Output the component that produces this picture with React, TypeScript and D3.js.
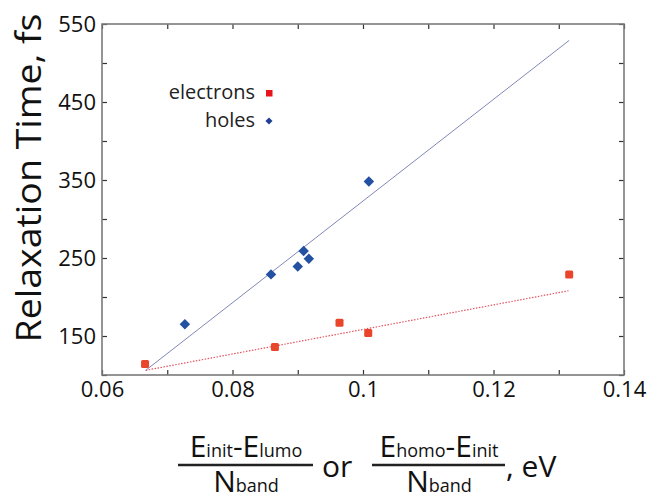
import React, { useEffect, useRef } from "react";
import * as d3 from "d3";

// values
const electronX = [0.0666, 0.0865, 0.0964, 0.1008, 0.1316];
const electronY = [114, 136, 167, 154, 229];

const holeX = [0.0727, 0.0859, 0.09, 0.0909, 0.0917, 0.1009];
const holeY = [165, 229, 239, 259, 249, 348];

// fitted lines (end points)
const electronFitX = [0.0667, 0.1315];
const electronFitY = [106, 208];
const holeFitX = [0.0667, 0.1316];
const holeFitY = [106, 529];

const xTicks = [0.06, 0.07, 0.08, 0.09, 0.1, 0.11, 0.12, 0.13, 0.14];
const xTickLabels = [0.06, 0.08, 0.1, 0.12, 0.14];
const yTicks = [100, 150, 200, 250, 300, 350, 400, 450, 500, 550];
const yTickLabels = [150, 250, 350, 450, 550];

const legendLabels = ["electrons", "holes"];

const FONT = "'Open Sans', 'DejaVu Sans', sans-serif";

const App = () => {
  const svgRef = useRef<SVGSVGElement>(null);

  useEffect(() => {
    const width = 653;
    const height = 500;
    const margin = { top: 24, right: 29, bottom: 125, left: 102 };

    const svg = d3.select(svgRef.current);
    svg.selectAll("*").remove();

    const x = d3.scaleLinear().domain([0.06, 0.14]).range([margin.left, width - margin.right]);
    const y = d3.scaleLinear().domain([100, 550]).range([height - margin.bottom, margin.top]);

    const fmtX = (d) => (xTickLabels.some((v) => Math.abs(v - d) < 1e-9) ? String(+d.toFixed(2)) : "");
    const fmtY = (d) => (yTickLabels.includes(d) ? String(d) : "");

    const styleAxis = (g) => {
      g.select(".domain").remove();
      g.selectAll(".tick line").attr("stroke", "#333").attr("stroke-width", 1.2);
      g.selectAll(".tick text")
        .attr("fill", "#111")
        .style("font-family", FONT)
        .style("font-size", "22px");
    };

    // axes, ticks pointing inward
    svg.append("g")
      .attr("transform", `translate(0,${y(100)})`)
      .call(d3.axisBottom(x).tickValues(xTicks).tickSize(-5).tickPadding(6).tickFormat(fmtX))
      .call(styleAxis);
    svg.append("g")
      .attr("transform", `translate(0,${y(550)})`)
      .call(d3.axisTop(x).tickValues(xTicks).tickSize(-5).tickFormat(() => ""))
      .call(styleAxis);
    svg.append("g")
      .attr("transform", `translate(${x(0.06)},0)`)
      .call(d3.axisLeft(y).tickValues(yTicks).tickSize(-5).tickPadding(6).tickFormat(fmtY))
      .call(styleAxis);
    svg.append("g")
      .attr("transform", `translate(${x(0.14)},0)`)
      .call(d3.axisRight(y).tickValues(yTicks).tickSize(-5).tickFormat(() => ""))
      .call(styleAxis);

    // frame
    svg.append("rect")
      .attr("x", x(0.06))
      .attr("y", y(550))
      .attr("width", x(0.14) - x(0.06))
      .attr("height", y(100) - y(550))
      .attr("fill", "none")
      .attr("stroke", "#7a7a7a")
      .attr("stroke-width", 1.6);

    // fit lines
    const line = d3.line().x((d) => x(d[0])).y((d) => y(d[1]));
    svg.append("path")
      .datum(holeFitX.map((v, i) => [v, holeFitY[i]]))
      .attr("d", line)
      .attr("fill", "none")
      .attr("stroke", "#8087b8")
      .attr("stroke-width", 1);
    svg.append("path")
      .datum(electronFitX.map((v, i) => [v, electronFitY[i]]))
      .attr("d", line)
      .attr("fill", "none")
      .attr("stroke", "#e2545f")
      .attr("stroke-width", 1.2)
      .attr("stroke-dasharray", "1.5,1.5");

    // points
    const sq = 8;
    svg.append("g")
      .selectAll("rect")
      .data(electronX.map((v, i) => [v, electronY[i]]))
      .enter()
      .append("rect")
      .attr("x", (d) => x(d[0]) - sq / 2)
      .attr("y", (d) => y(d[1]) - sq / 2)
      .attr("width", sq)
      .attr("height", sq)
      .attr("rx", 1.5)
      .attr("fill", "#e8452a");

    const diamond = d3.symbol().type(d3.symbolDiamond2).size(70);
    svg.append("g")
      .selectAll("path")
      .data(holeX.map((v, i) => [v, holeY[i]]))
      .enter()
      .append("path")
      .attr("d", diamond)
      .attr("transform", (d) => `translate(${x(d[0])},${y(d[1])})`)
      .attr("fill", "#2350a0");

    // legend
    const legend = svg.append("g").style("font-family", FONT).style("font-size", "20px");
    legendLabels.forEach((label, i) => {
      const ly = 93 + i * 28;
      legend.append("text")
        .attr("x", 255)
        .attr("y", ly)
        .attr("dy", "0.32em")
        .attr("text-anchor", "end")
        .attr("fill", "#222")
        .text(label);
    });
    legend.append("rect")
      .attr("x", 266).attr("y", 90).attr("width", 6.5).attr("height", 6.5)
      .attr("fill", "#e8141b");
    legend.append("path")
      .attr("d", d3.symbol().type(d3.symbolDiamond2).size(32))
      .attr("transform", "translate(269,121)")
      .attr("fill", "#1f3f95");

    // y title
    svg.append("text")
      .attr("transform", "translate(41,178) rotate(-90)")
      .attr("text-anchor", "middle")
      .style("font-family", FONT)
      .style("font-size", "35px")
      .attr("textLength", 329)
      .attr("lengthAdjust", "spacingAndGlyphs")
      .attr("fill", "#111")
      .text("Relaxation Time, fs");

    // x title: two fractions
    const xt = svg.append("g").style("font-family", FONT).attr("fill", "#111");
    const fraction = (cx, x0, x1, num, den) => {
      const t = xt.append("text").attr("x", cx).attr("y", 457).attr("text-anchor", "middle");
      num.forEach(([s, big]) => t.append("tspan").style("font-size", big ? "30px" : "18px").text(s));
      xt.append("line")
        .attr("x1", x0).attr("x2", x1).attr("y1", 465).attr("y2", 465)
        .attr("stroke", "#222").attr("stroke-width", 2.6);
      const b = xt.append("text").attr("x", cx).attr("y", 492).attr("text-anchor", "middle");
      den.forEach(([s, big]) => b.append("tspan").style("font-size", big ? "30px" : "18px").text(s));
    };
    fraction(246, 178, 313, [["E", 1], ["init", 0], ["-", 1], ["E", 1], ["lumo", 0]], [["N", 1], ["band", 0]]);
    fraction(439, 372, 505, [["E", 1], ["homo", 0], ["-", 1], ["E", 1], ["init", 0]], [["N", 1], ["band", 0]]);
    xt.append("text").attr("x", 322).attr("y", 477).style("font-size", "30px").text("or");
    xt.append("text").attr("x", 506).attr("y", 477).style("font-size", "30px").text(", eV");
  }, []);

  return (
    <svg
      ref={svgRef}
      width={653}
      height={500}
      style={{ position: "absolute", left: 0, top: 0, background: "#fff" }}
    />
  );
};

export default App;
